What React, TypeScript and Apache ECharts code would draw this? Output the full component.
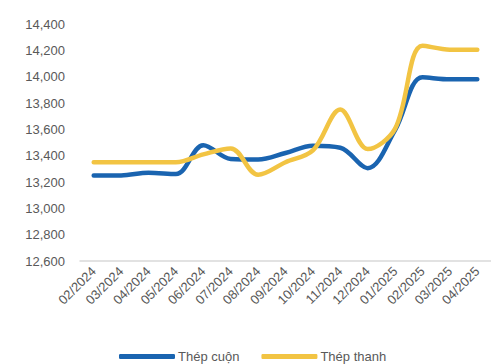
import React, { useEffect, useRef } from "react";
import * as echarts from "echarts";

const months = [
  "02/2024", "03/2024", "04/2024", "05/2024", "06/2024", "07/2024", "08/2024",
  "09/2024", "10/2024", "11/2024", "12/2024", "01/2025", "02/2025", "03/2025", "04/2025",
];

const coilSteel = [13250, 13250, 13270, 13260, 13480, 13375, 13370, 13420, 13475, 13460, 13305, 13595, 13995, 13980, 13980];
const barSteel = [13350, 13350, 13350, 13350, 13410, 13455, 13255, 13350, 13440, 13750, 13450, 13605, 14235, 14205, 14205];

const fmt = (v: number) => v.toLocaleString("en-US");

export default function App() {
  const ref = useRef<HTMLDivElement>(null);

  useEffect(() => {
    if (!ref.current) return;
    const chart = echarts.init(ref.current, null, { renderer: "svg" });
    const font = "'Liberation Sans', Arial, sans-serif";
    chart.setOption({
      animation: false,
      textStyle: { fontFamily: font },
      grid: { left: 80, top: 24, height: 237, width: 420 },
      legend: {
        top: 345,
        left: 114,
        icon: "roundRect",
        itemWidth: 56,
        itemHeight: 5,
        itemGap: 22,
        textStyle: { fontSize: 13, color: "#595959", fontFamily: font, padding: [0, 0, 0, -2] },
        data: ["Thép cuộn", "Thép thanh"],
      },
      xAxis: {
        type: "category",
        data: months,
        boundaryGap: true,
        axisLine: { lineStyle: { color: "#d9d9d9", width: 1.5 } },
        axisTick: { show: false },
        axisLabel: { rotate: 45, fontSize: 13, color: "#595959", margin: 8, interval: 0, fontFamily: font },
      },
      yAxis: {
        type: "value",
        min: 12600,
        max: 14400,
        interval: 200,
        splitLine: { show: false },
        axisLine: { show: false },
        axisTick: { show: false },
        axisLabel: { fontSize: 13, color: "#595959", margin: 15, formatter: fmt, fontFamily: font },
      },
      series: [
        {
          name: "Thép cuộn",
          type: "line",
          data: coilSteel,
          smooth: 0.35,
          symbol: "none",
          lineStyle: { width: 4.5, color: "#1a64b0", cap: "round" },
          itemStyle: { color: "#1a64b0" },
        },
        {
          name: "Thép thanh",
          type: "line",
          data: barSteel,
          smooth: 0.35,
          symbol: "none",
          lineStyle: { width: 4.5, color: "#f2c443", cap: "round" },
          itemStyle: { color: "#f2c443" },
        },
      ],
    });
    return () => chart.dispose();
  }, []);

  return <div ref={ref} style={{ width: 491, height: 364, position: "absolute", left: 0, top: 0 }} />;
}
